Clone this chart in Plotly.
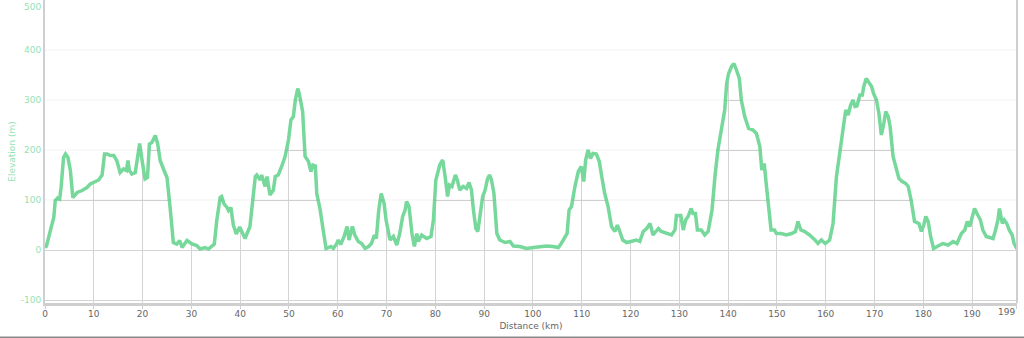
import plotly.graph_objects as go

distance_km = [
    0.0, 0.3, 1.1, 1.8, 2.1, 2.6, 3.0, 3.3, 3.8, 4.2, 4.7, 5.2, 5.7, 6.6, 7.6, 8.6, 9.3, 10.0,
    11.0, 11.7, 12.2, 12.7, 13.4, 14.1, 14.7, 15.4, 16.1, 16.7, 17.0, 17.3, 17.8, 18.5, 19.0,
    19.4, 19.9, 20.5, 21.0, 21.4, 21.9, 22.6, 23.1, 23.6, 24.4, 25.0, 25.7, 26.3, 27.0, 27.6,
    28.1, 29.1, 30.1, 31.1, 31.8, 32.8, 33.5, 34.2, 34.7, 35.2, 35.9, 36.2, 36.7, 37.3, 37.6,
    38.1, 38.6, 39.2, 39.9, 41.0, 42.0, 43.1, 43.4, 44.1, 44.4, 45.1, 45.5, 46.1, 46.8, 47.2,
    47.8, 48.5, 49.2, 49.9, 50.4, 50.9, 51.3, 51.8, 52.1, 52.8, 53.3, 54.0, 54.5, 54.9, 55.4,
    55.7, 56.4, 56.9, 57.6, 58.6, 59.1, 59.8, 60.1, 60.6, 61.3, 61.9, 62.3, 63.0, 63.5, 64.2,
    64.9, 65.6, 66.3, 66.9, 67.5, 67.9, 68.4, 68.9, 69.5, 69.9, 70.7, 71.4, 72.1, 72.7, 73.3,
    73.8, 74.1, 74.6, 75.2, 75.7, 76.2, 76.5, 77.2, 78.2, 79.1, 79.6, 80.1, 80.9, 81.5, 82.0,
    82.5, 82.9, 83.4, 83.7, 84.1, 84.5, 85.0, 85.7, 86.4, 86.9, 87.4, 87.8, 88.3, 88.7, 89.2,
    89.7, 90.2, 90.7, 91.1, 91.5, 92.0, 92.6, 93.2, 94.3, 95.3, 96.0, 97.3, 98.7, 100.1, 101.4,
    102.8, 104.1, 105.2, 105.8, 106.5, 107.0, 107.4, 107.9, 108.6, 109.3, 109.9, 110.4, 110.8,
    111.3, 111.8, 112.3, 113.0, 113.6, 114.1, 114.7, 115.4, 116.1, 116.8, 117.3, 117.8, 118.4,
    119.2, 120.2, 121.2, 121.9, 122.6, 123.3, 124.0, 124.6, 125.7, 126.3, 127.4, 128.4, 129.1,
    129.4, 130.3, 130.8, 131.3, 131.8, 132.4, 132.8, 133.3, 133.7, 134.5, 135.2, 135.9, 136.7,
    137.3, 137.9, 138.6, 139.3, 139.7, 140.1, 140.7, 141.2, 141.7, 142.3, 142.7, 143.4, 144.2,
    145.1, 145.8, 146.5, 146.9, 147.4, 147.8, 148.3, 148.8, 149.5, 149.9, 150.9, 151.9, 153.0,
    153.8, 154.3, 154.9, 155.7, 156.7, 157.8, 158.4, 159.1, 159.9, 160.8, 161.5, 162.2, 162.9,
    163.6, 164.1, 164.6, 165.1, 165.6, 166.0, 166.4, 167.0, 167.5, 167.8, 168.3, 168.9, 169.4,
    169.8, 170.4, 170.9, 171.4, 171.9, 172.3, 172.8, 173.2, 173.8, 174.5, 175.0, 175.7, 176.4,
    176.9, 177.5, 178.2, 179.1, 179.6, 180.1, 180.5, 181.0, 181.5, 182.1, 183.0, 184.0, 185.1,
    186.1, 186.9, 187.8, 188.5, 189.0, 189.5, 190.0, 190.5, 191.0, 191.7, 192.2, 192.9, 193.6,
    194.3, 194.8, 195.3, 195.6, 196.2, 196.6, 197.1, 197.6, 198.2, 198.6, 199.2,
]
elevation_m = [
    5, 8, 39, 65, 99, 104, 102, 125, 185, 192, 185, 159, 105, 115, 119, 125, 132, 135,
    140, 150, 192, 192, 189, 189, 179, 155, 162, 159, 179, 159, 152, 155, 192,
    213, 179, 142, 145, 212, 215, 229, 212, 179, 159, 145, 79, 15, 12, 19,
    5, 19, 12, 9, 2, 5, 2, 9, 12, 59, 105, 107, 92, 85, 79,
    85, 50, 32, 46, 23, 47, 147, 150, 140, 150, 127, 147, 110, 120, 147,
    150, 167, 187, 220, 260, 267, 300, 323, 313, 277, 187, 177, 157, 170, 168,
    113, 80, 47, 3, 7, 3, 13, 20, 11, 27, 47, 20, 47, 30, 17,
    13, 3, 7, 13, 30, 23, 80, 113, 93, 60, 20, 27, 10, 33, 67,
    80, 97, 87, 33, 7, 33, 17, 30, 23, 27, 60, 140, 170, 180, 147,
    107, 130, 127, 137, 150, 140, 120, 127, 123, 135, 120, 80, 43, 37, 73,
    107, 120, 143, 150, 140, 113, 33, 20, 15, 17, 8, 7, 3, 5, 7,
    8, 7, 5, 13, 23, 33, 80, 87, 127, 157, 167, 137, 180,
    200, 183, 193, 192, 177, 147, 113, 87, 47, 37, 50, 37, 20,
    15, 17, 20, 17, 37, 43, 53, 30, 43, 37, 33, 30, 40,
    69, 69, 40, 60, 67, 83, 73, 73, 40, 40, 30, 37, 80,
    147, 200, 240, 280, 333, 353, 367, 373, 360, 343, 300, 267, 243,
    240, 233, 207, 160, 173, 133, 80, 40, 40, 33, 33, 30, 33,
    37, 57, 40, 37, 30, 20, 13, 20, 13, 20, 53, 147, 200,
    247, 280, 270, 290, 300, 287, 288, 310, 310, 327, 343, 333, 327,
    313, 300, 273, 230, 253, 277, 267, 247, 187, 160, 143, 137, 133,
    127, 100, 57, 53, 37, 50, 67, 57, 27, 3, 8, 13, 10,
    17, 13, 33, 40, 57, 47, 67, 83, 73, 60, 40, 27, 25,
    23, 40, 60, 83, 53, 60, 53, 40, 30, 13, 2,
]

x_tick_vals = [0, 10, 20, 30, 40, 50, 60, 70, 80, 90, 100, 110, 120, 130, 140, 150, 160, 170, 180, 190, 199]
x_tick_text = ["0", "10", "20", "30", "40", "50", "60", "70", "80", "90", "100", "110", "120",
               "130", "140", "150", "160", "170", "180", "190", ""]
y_tick_vals = [-100, 0, 100, 200, 300, 400]
y_tick_text = ["-100", "0", "100", "200", "300", "400"]
x_range = [0, 199.2]
y_range = [-106, 500]

LINE = "#76d89b"
LABEL_GREEN = "#94e2b4"
GRID_DARK = "#d4d4d4"
FONT = "DejaVu Sans"
FS = 9

fig = go.Figure()
# mask: white fill above the profile hides the darker grid there
fig.add_trace(go.Scatter(x=distance_km, y=[y_range[1] + 50] * len(distance_km), mode="lines",
                         line=dict(width=0), hoverinfo="skip", showlegend=False))
fig.add_trace(go.Scatter(x=distance_km, y=elevation_m, mode="lines", fill="tonexty",
                         fillcolor="white", line=dict(width=0), hoverinfo="skip", showlegend=False))
fig.add_trace(go.Scatter(x=distance_km, y=elevation_m, mode="lines",
                         line=dict(color=LINE, width=3.5), showlegend=False))

# faint horizontal grid visible above the profile
for v in [100, 200, 300, 400]:
    fig.add_shape(type="line", xref="paper", x0=0, x1=1, yref="y", y0=v, y1=v,
                  line=dict(color="rgba(0,0,0,0.05)", width=1), layer="above")
# right border
fig.add_shape(type="line", xref="paper", x0=1, x1=1, yref="paper", y0=0, y1=1,
              line=dict(color="#cfcfcf", width=2), layer="above")
# page edge line at bottom
fig.add_shape(type="line", xref="paper", x0=-0.05, x1=1.01, yref="paper", y0=-0.1135, y1=-0.1135,
              line=dict(color="#8a8a8a", width=2), layer="above")

fig.add_annotation(x=0, xref="paper", y=500, yref="y", text="500", showarrow=False,
                   xanchor="right", yanchor="middle", xshift=-2, yshift=-7,
                   font=dict(family=FONT, size=FS, color=LABEL_GREEN))
fig.add_annotation(x=199, xref="x", y=0, yref="paper", text="199", showarrow=False,
                   xanchor="right", yanchor="middle", xshift=1, yshift=-9,
                   font=dict(family=FONT, size=FS, color="#666666"))

fig.update_layout(
    width=1024, height=338,
    margin=dict(l=45, r=7, t=0, b=35, autoexpand=False),
    paper_bgcolor="white", plot_bgcolor="white",
    font=dict(family=FONT, size=FS, color="#666666"),
    showlegend=False,
    xaxis=dict(range=x_range, tickvals=x_tick_vals, ticktext=x_tick_text, automargin=False,
               showgrid=True, gridcolor=GRID_DARK, gridwidth=1,
               showline=True, linecolor="#cfcfcf", linewidth=3,
               ticks="outside", ticklen=3, tickcolor="#cfcfcf",
               ticklabelstandoff=-3,
               tickfont=dict(family=FONT, size=FS, color="#666666"),
               title=dict(text="Distance (km)", font=dict(family=FONT, size=FS, color="#666666"), standoff=5),
               zeroline=False),
    yaxis=dict(range=y_range, tickvals=y_tick_vals, ticktext=y_tick_text, automargin=False,
               showgrid=True, gridcolor=GRID_DARK, gridwidth=1,
               showline=True, linecolor="#cfcfcf", linewidth=2,
               ticks="", tickfont=dict(family=FONT, size=FS, color=LABEL_GREEN),
               title=dict(text="Elevation (m)", font=dict(family=FONT, size=FS, color=LABEL_GREEN), standoff=4),
               zeroline=False),
)

fig.write_html("out.html", config={"displayModeBar": False},
               post_script="document.body.style.margin='0';document.body.style.overflow='hidden';")
